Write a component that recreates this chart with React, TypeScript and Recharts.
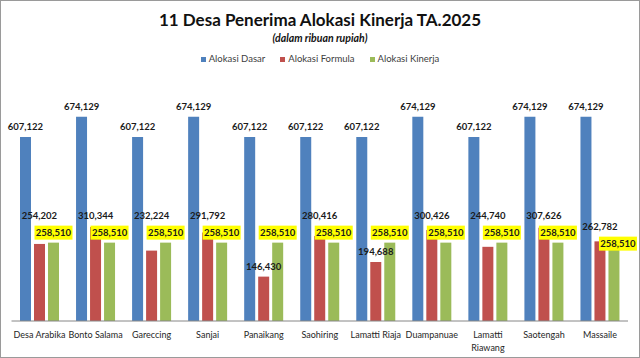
import React from 'react';
import { BarChart, Bar, XAxis, YAxis, LabelList, Legend } from 'recharts';

const categories = [
  'Desa Arabika', 'Bonto Salama', 'Gareccing', 'Sanjai', 'Panaikang', 'Saohiring',
  'Lamatti Riaja', 'Duampanuae', 'Lamatti Riawang', 'Saotengah', 'Massaile',
];
const alokasiDasar = [607122, 674129, 607122, 674129, 607122, 607122, 607122, 674129, 607122, 674129, 674129];
const alokasiFormula = [254202, 310344, 232224, 291792, 146430, 280416, 194688, 300426, 244740, 307626, 262782];
const alokasiKinerja = [258510, 258510, 258510, 258510, 258510, 258510, 258510, 258510, 258510, 258510, 258510];
const seriesNames = ['Alokasi Dasar', 'Alokasi Formula', 'Alokasi Kinerja'];
const titleText = '11 Desa Penerima Alokasi Kinerja TA.2025';
const subtitleText = '(dalam ribuan rupiah)';

const COLORS = ['#4F81BD', '#C0504D', '#9BBB59'];
const FONT = 'Lato, "Liberation Sans", Arial, sans-serif';
const LABEL_COLOR = '#1a1a1a';

const data = categories.map((name, i) => ({
  name,
  dasar: alokasiDasar[i],
  formula: alokasiFormula[i],
  kinerja: alokasiKinerja[i],
}));

const fmt = (v: number) => Number(v).toLocaleString('en-US');

const DasarLabel = (props: any) => {
  const { x, y, width, value } = props;
  return (
    <text x={Number(x) + Number(width) / 2} y={Number(y) - 10} textAnchor="middle" dominantBaseline="central"
      fontFamily={FONT} fontSize={9.5} fontWeight={700} fill={LABEL_COLOR}>
      {fmt(value)}
    </text>
  );
};

const BOX_W = 38;
const BOX_H = 14;

const boxShift = (index: number) => (index === data.length - 1 ? { dx: 4, dy: 11 } : { dx: 0, dy: 0 });

const KinerjaLabel = (props: any) => {
  const { x, y, width, value, index } = props;
  const s = boxShift(index);
  const cx = Number(x) + Number(width) / 2 + s.dx;
  const bottom = Number(y) - 3 + s.dy;
  return (
    <g>
      <rect x={cx - BOX_W / 2} y={bottom - BOX_H} width={BOX_W} height={BOX_H} fill="#FFFF00" />
      <text x={cx} y={bottom - BOX_H / 2} textAnchor="middle" dominantBaseline="central"
        fontFamily={FONT} fontSize={9.5} fontWeight={700} fill={LABEL_COLOR}>
        {fmt(value)}
      </text>
    </g>
  );
};

const FormulaLabel = (props: any) => {
  const { x, y, width, height, value, index } = props;
  const top = Number(y);
  const base = top + Number(height);
  const k = Number(height) / Number(value);
  const greenTop = base - alokasiKinerja[index] * k;
  const s = boxShift(index);
  const boxBottom = greenTop - 3 + s.dy;
  const boxTop = boxBottom - BOX_H;
  let cy = top - 10;
  if (cy - 6 < boxBottom) cy = boxTop - 10;
  return (
    <text x={Number(x) + Number(width) / 2} y={cy} textAnchor="middle" dominantBaseline="central"
      fontFamily={FONT} fontSize={9.5} fontWeight={700} fill={LABEL_COLOR}>
      {fmt(value)}
    </text>
  );
};

const CategoryTick = (props: any) => {
  const { x, y, payload } = props;
  const label = String(payload.value);
  let lines = [label];
  if (label.length > 13) {
    const i = label.lastIndexOf(' ');
    lines = [label.slice(0, i), label.slice(i + 1)];
  }
  return (
    <g>
      {lines.map((l, i) => (
        <text key={i} x={x} y={Number(y) + 13 + i * 13} textAnchor="middle" dominantBaseline="central"
          fontFamily={FONT} fontSize={9} fill="#262626">
          {l}
        </text>
      ))}
    </g>
  );
};

const LegendContent = () => (
  <div style={{ display: 'flex', justifyContent: 'center', alignItems: 'center', fontFamily: FONT, fontSize: 9.5, color: '#404040' }}>
    {seriesNames.map((n, i) => (
      <div key={n} style={{ display: 'flex', alignItems: 'center', marginRight: i < seriesNames.length - 1 ? 15 : 0 }}>
        <span style={{ display: 'inline-block', width: 5, height: 5, background: COLORS[i], marginRight: 3 }} />
        <span>{n}</span>
      </div>
    ))}
  </div>
);

export default function App() {
  return (
    <div style={{ position: 'absolute', left: 0, top: 0, width: 640, height: 358, background: '#fff' }}>
      <BarChart width={640} height={358} data={data}
        margin={{ top: 78.5, right: 12, bottom: 7, left: 11.5 }}
        barCategoryGap={8.5} barGap={3}>
        <XAxis dataKey="name" height={30} tickLine={false} tickSize={0} tickMargin={0}
          axisLine={{ stroke: '#868686', strokeWidth: 1 }} tick={<CategoryTick />} interval={0} />
        <YAxis hide domain={[0, 800000]} />
        <Legend layout="horizontal" verticalAlign="middle" align="center"
          wrapperStyle={{ top: 52, left: 0, width: 640, height: 14, lineHeight: '14px' }}
          content={<LegendContent />} />
        <Bar dataKey="dasar" name={seriesNames[0]} fill={COLORS[0]} isAnimationActive={false}>
          <LabelList dataKey="dasar" content={<DasarLabel />} />
        </Bar>
        <Bar dataKey="formula" name={seriesNames[1]} fill={COLORS[1]} isAnimationActive={false}>
          <LabelList dataKey="formula" content={<FormulaLabel />} />
        </Bar>
        <Bar dataKey="kinerja" name={seriesNames[2]} fill={COLORS[2]} isAnimationActive={false}>
          <LabelList dataKey="kinerja" content={<KinerjaLabel />} />
        </Bar>
      </BarChart>
      <div style={{ position: 'absolute', left: 0, top: 10, width: 640, height: 20, lineHeight: '20px', textAlign: 'center',
        fontFamily: FONT, fontSize: 17, fontWeight: 700, color: '#111' }}>
        {titleText}
      </div>
      <div style={{ position: 'absolute', left: 0, top: 31, width: 640, height: 14, lineHeight: '14px', textAlign: 'center',
        fontFamily: FONT, fontSize: 10.5, fontWeight: 700, fontStyle: 'italic', color: '#111' }}>
        {subtitleText}
      </div>
      <div style={{ position: 'absolute', left: 0, top: 0, width: 640, height: 358, boxSizing: 'border-box',
        border: '1px solid #9a9a9a', pointerEvents: 'none' }} />
    </div>
  );
}
